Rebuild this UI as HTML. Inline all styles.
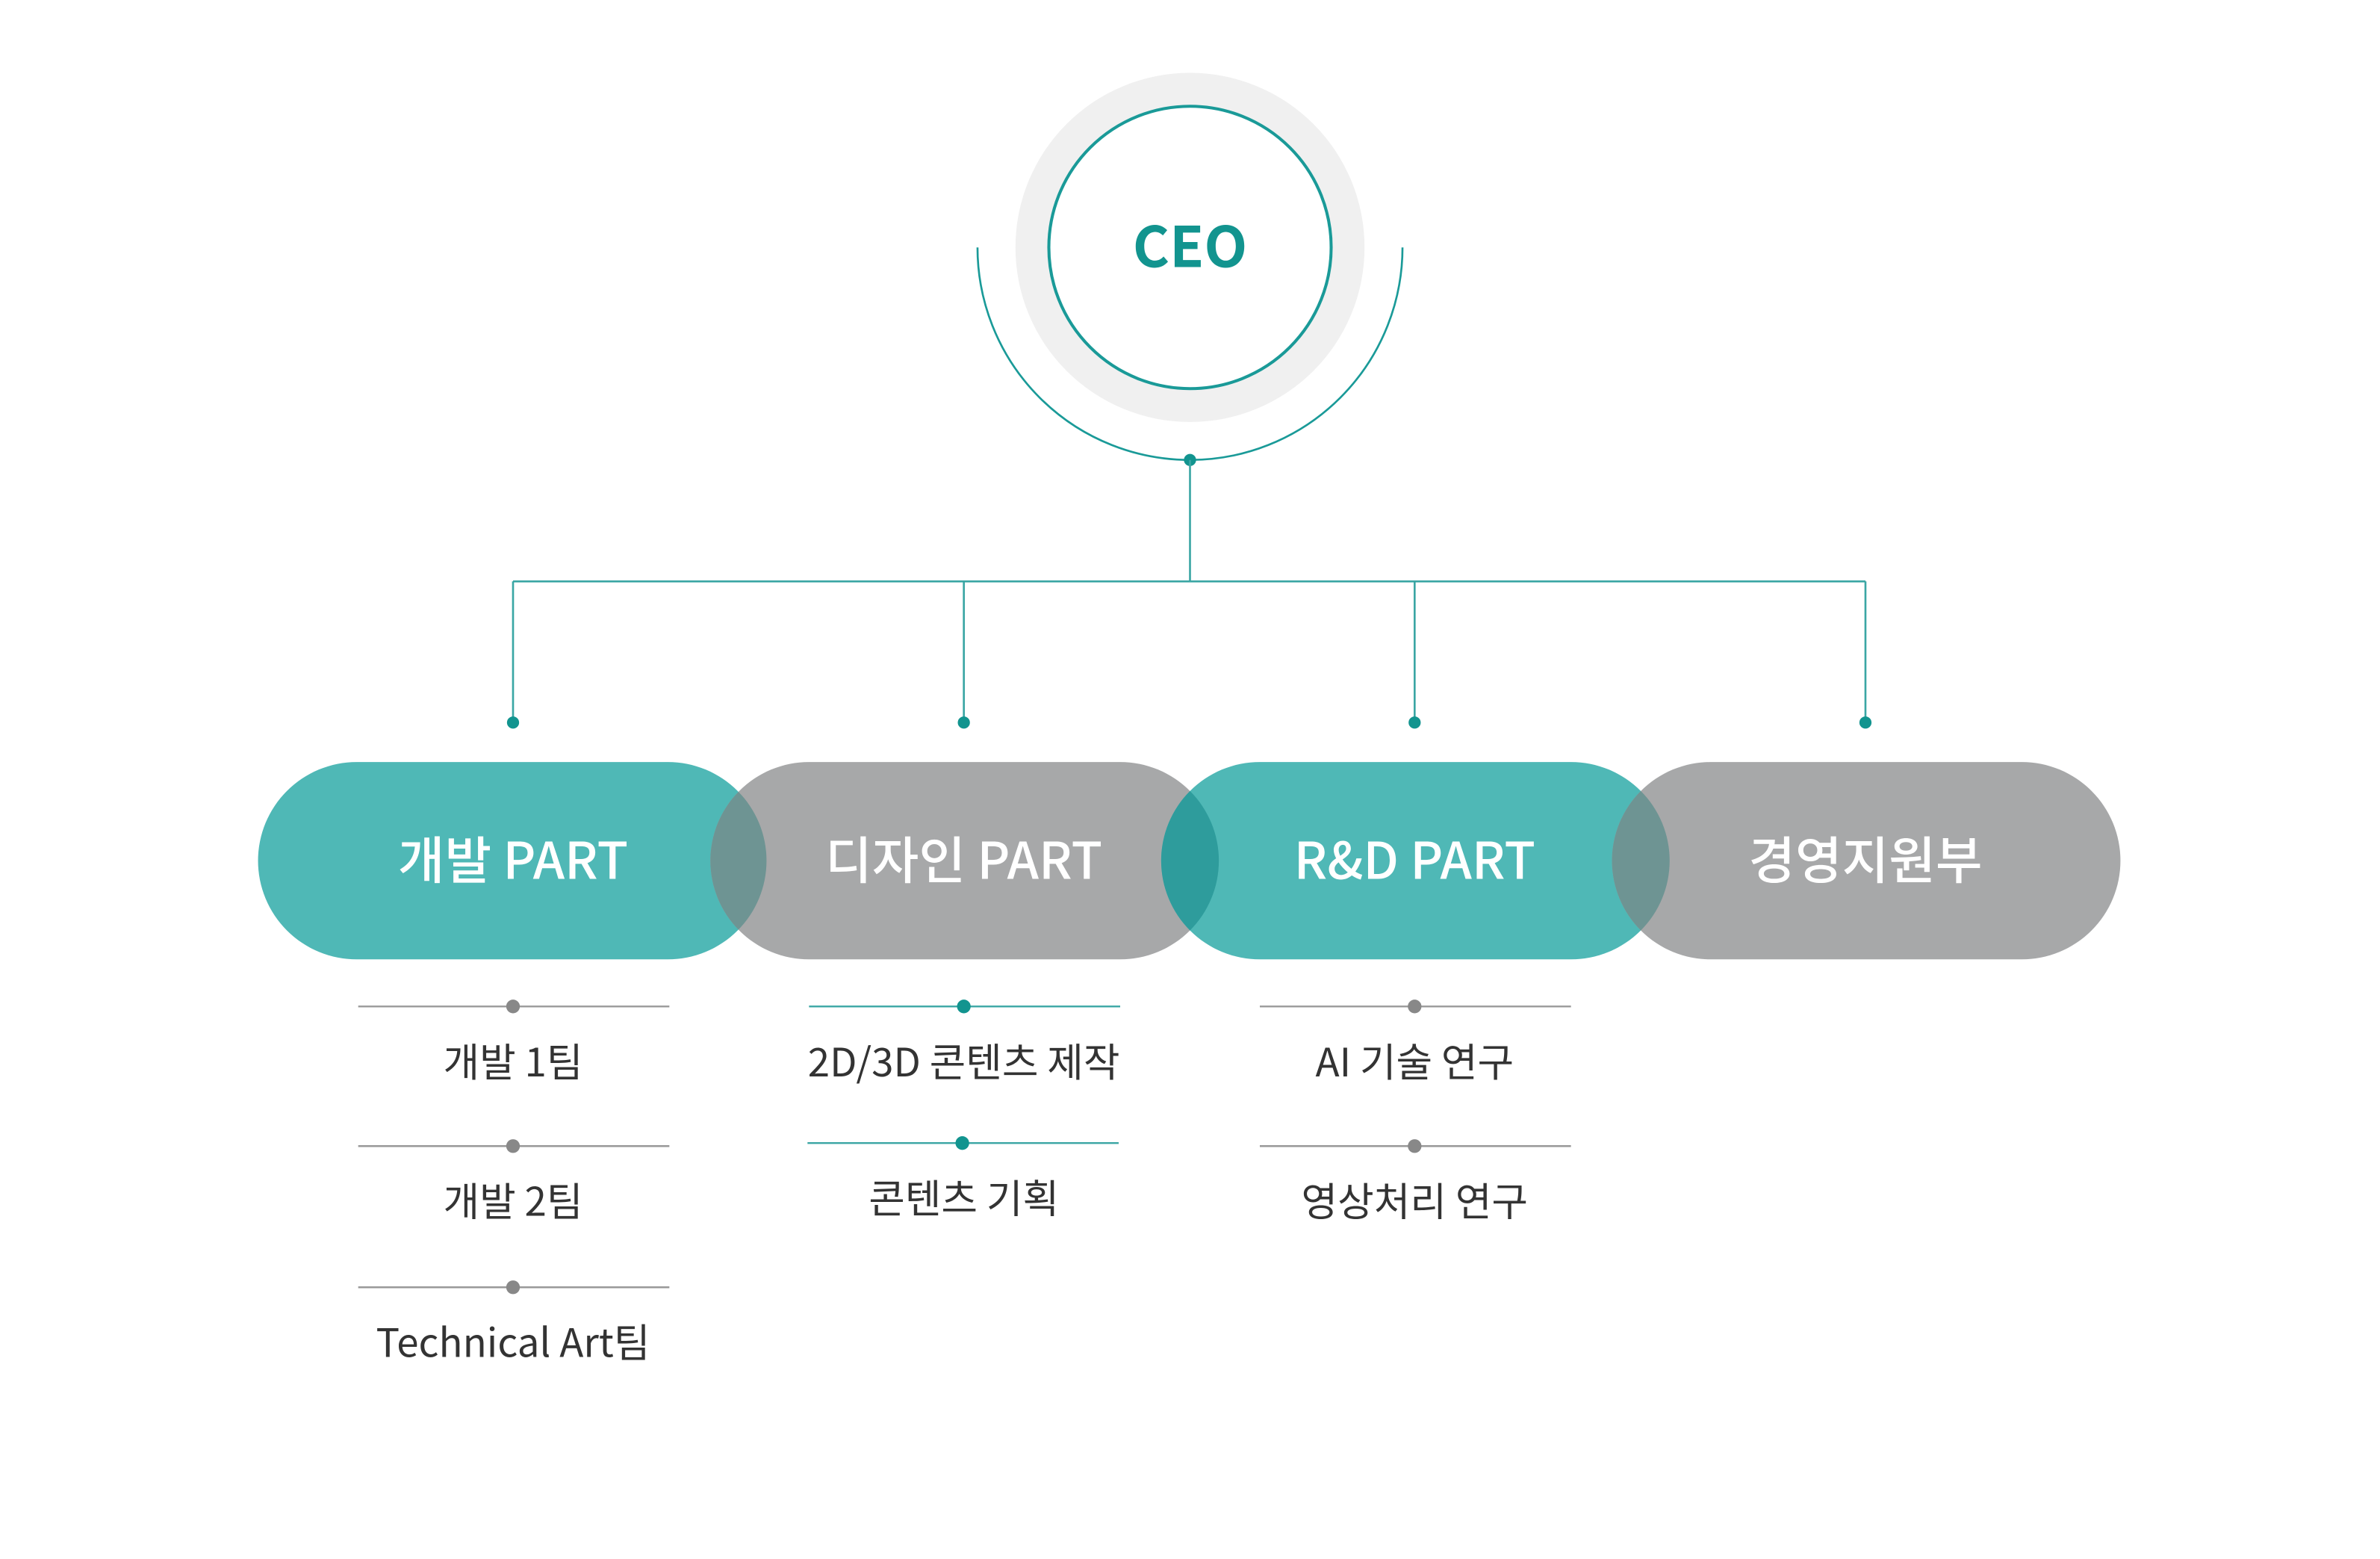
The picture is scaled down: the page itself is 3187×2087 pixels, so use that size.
<!DOCTYPE html>
<html><head><meta charset="utf-8"><style>
html,body{margin:0;padding:0;background:#fff;}
svg{display:block;}
text{font-family:"Noto Sans CJK KR","Liberation Sans",sans-serif;}
</style></head><body>
<svg width="3187" height="2087" viewBox="0 0 1568 1027" preserveAspectRatio="none" xmlns="http://www.w3.org/2000/svg">
<defs>
<clipPath id="p1"><rect x="170" y="502" width="335" height="130" rx="65"/></clipPath>
<clipPath id="p2"><rect x="468" y="502" width="335" height="130" rx="65"/></clipPath>
<clipPath id="p3"><rect x="765" y="502" width="335" height="130" rx="65"/></clipPath>
</defs>
<circle cx="784" cy="163" r="115" fill="#f0f0f0"/>
<circle cx="784" cy="163" r="93" fill="#fff" stroke="#1a9a98" stroke-width="2"/>
<text x="784" y="176" text-anchor="middle" font-size="37" font-weight="bold" fill="#12948f">CEO</text>
<path d="M644 163 A140 140 0 0 0 924 163" fill="none" stroke="#1a9a98" stroke-width="1.3"/>
<circle cx="784" cy="303" r="4" fill="#12948f"/>
<g stroke="#3aa6a4" stroke-width="1.3" fill="none">
<line x1="784" y1="303" x2="784" y2="383"/>
<line x1="338" y1="383" x2="1229" y2="383"/>
<line x1="338" y1="383" x2="338" y2="476"/>
<line x1="635" y1="383" x2="635" y2="476"/>
<line x1="932" y1="383" x2="932" y2="476"/>
<line x1="1229" y1="383" x2="1229" y2="476"/>
</g>
<g fill="#12948f"><circle cx="338" cy="476" r="4"/><circle cx="635" cy="476" r="4"/><circle cx="932" cy="476" r="4"/><circle cx="1229" cy="476" r="4"/></g>
<rect x="170" y="502" width="335" height="130" rx="65" fill="#4fb8b6"/>
<rect x="468" y="502" width="335" height="130" rx="65" fill="#a7a8a9"/>
<rect x="765" y="502" width="335" height="130" rx="65" fill="#4fb8b6"/>
<rect x="1062" y="502" width="335" height="130" rx="65" fill="#a7a8a9"/>
<g clip-path="url(#p1)"><rect x="468" y="502" width="335" height="130" rx="65" fill="#6e9493"/></g>
<g clip-path="url(#p2)"><rect x="765" y="502" width="335" height="130" rx="65" fill="#2e9c9c"/></g>
<g clip-path="url(#p3)"><rect x="1062" y="502" width="335" height="130" rx="65" fill="#6e9493"/></g>
<g fill="#fff" font-size="33.5" font-weight="500" text-anchor="middle">
<text x="338" y="579">개발 PART</text>
<text x="635" y="579">디자인 PART</text>
<text x="932" y="579">R&amp;D PART</text>
<text x="1229" y="579">경영지원부</text>
</g>
<g stroke="#999" stroke-width="1.2">
<line x1="236" y1="663" x2="441" y2="663"/>
<line x1="236" y1="755" x2="441" y2="755"/>
<line x1="236" y1="848" x2="441" y2="848"/>
<line x1="830" y1="663" x2="1035" y2="663"/>
<line x1="830" y1="755" x2="1035" y2="755"/>
</g>
<g stroke="#3aa6a4" stroke-width="1.2">
<line x1="533" y1="663" x2="738" y2="663"/>
<line x1="532" y1="753" x2="737" y2="753"/>
</g>
<g fill="#888"><circle cx="338" cy="663" r="4.5"/><circle cx="338" cy="755" r="4.5"/><circle cx="338" cy="848" r="4.5"/><circle cx="932" cy="663" r="4.5"/><circle cx="932" cy="755" r="4.5"/></g>
<g fill="#12948f"><circle cx="635" cy="663" r="4.5"/><circle cx="634" cy="753" r="4.5"/></g>
<g fill="#333" font-size="26" text-anchor="middle">
<text x="338" y="709">개발 1팀</text>
<text x="338" y="801">개발 2팀</text>
<text x="338" y="894">Technical Art팀</text>
<text x="635" y="709">2D/3D 콘텐츠 제작</text>
<text x="635" y="799">콘텐츠 기획</text>
<text x="932" y="709">AI 기술 연구</text>
<text x="932" y="801">영상처리 연구</text>
</g>
</svg>
</body></html>
